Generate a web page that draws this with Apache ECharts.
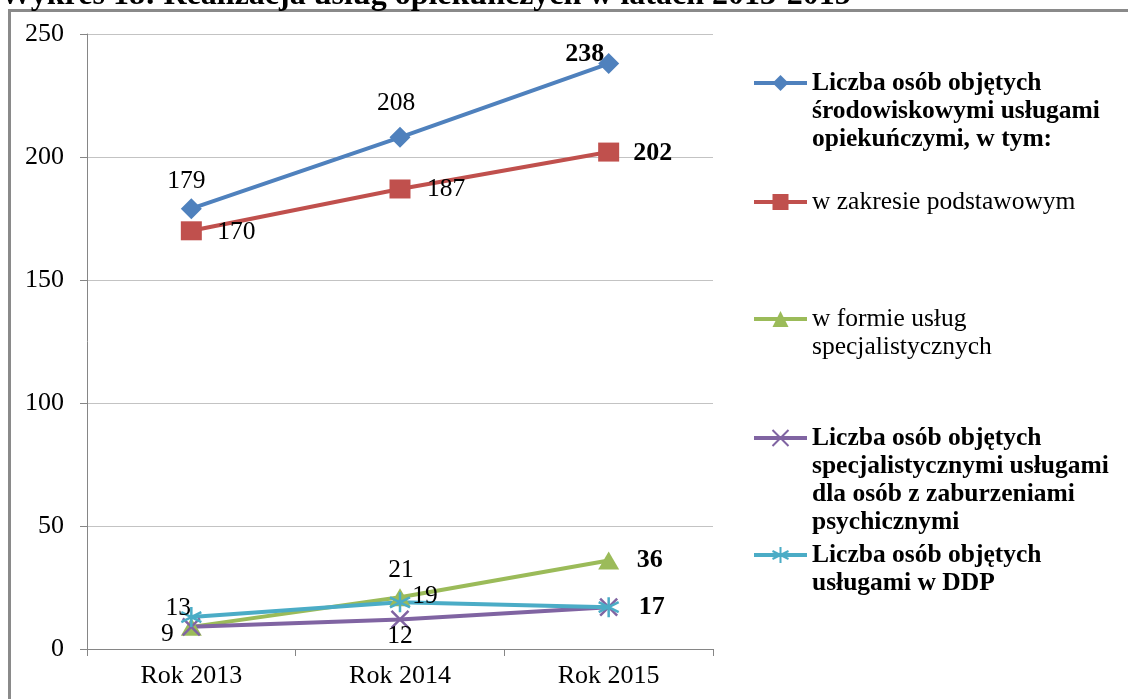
<!DOCTYPE html>
<html><head><meta charset="utf-8">
<script src="https://cdn.jsdelivr.net/npm/echarts@6/dist/echarts.min.js"></script>
<style>html,body{margin:0;padding:0;background:#fff}#c{width:1128px;height:699px}</style>
</head><body><div id="c"></div>
<script>
// ---- data ----
const categories = ['Rok 2013', 'Rok 2014', 'Rok 2015'];
const yTickMin = 0, yTickMax = 250, yTickStep = 50;
const nameSrodowiskowe = 'Liczba osób objętych środowiskowymi usługami opiekuńczymi, w tym:';
const namePodstawowe = 'w zakresie podstawowym';
const nameSpecjalistyczne = 'w formie usług specjalistycznych';
const nameZaburzenia = 'Liczba osób objętych specjalistycznymi usługami dla osób z zaburzeniami psychicznymi';
const nameDDP = 'Liczba osób objętych usługami w DDP';
const valuesSrodowiskowe = [179, 208, 238];
const valuesPodstawowe = [170, 187, 202];
const valuesSpecjalistyczne = [9, 21, 36];
const valuesZaburzenia = [9, 12, 17];
const valuesDDP = [13, 19, 17];
const titleText = 'Wykres 18: Realizacja usług opiekuńczych w latach 2013-2015';

// ---- presentation ----
const FONT = '"Liberation Serif", "Times New Roman", serif';
const legendLines = {};
legendLines[nameSrodowiskowe] = ['Liczba osób objętych', 'środowiskowymi usługami', 'opiekuńczymi, w tym:'];
legendLines[namePodstawowe] = ['w zakresie podstawowym'];
legendLines[nameSpecjalistyczne] = ['w formie usług', 'specjalistycznych'];
legendLines[nameZaburzenia] = ['Liczba osób objętych', 'specjalistycznymi usługami', 'dla osób z zaburzeniami', 'psychicznymi'];
legendLines[nameDDP] = ['Liczba osób objętych', 'usługami w DDP'];

const seriesDefs = [
  { name: nameSrodowiskowe, values: valuesSrodowiskowe, color: '#4F81BD', symbol: 'diamond', size: 21, border: 0,
    labels: [{o:[-5,-27]}, {o:[-4,-34]}, {o:[-24,-9], b:true}], legendTop: 83, bold: true },
  { name: namePodstawowe, values: valuesPodstawowe, color: '#C0504D', symbol: 'rect', size: [21,19], border: 0,
    labels: [{o:[45,1]}, {o:[46,0]}, {o:[44,1], b:true}], legendTop: 202, bold: false },
  { name: nameSpecjalistyczne, values: valuesSpecjalistyczne, color: '#9BBB59', symbol: 'triangle', size: [21,18], border: 0,
    labels: [{o:[-24,7]}, {o:[1,-27]}, {o:[41,0], b:true}], legendTop: 319, bold: false },
  { name: nameZaburzenia, values: valuesZaburzenia, color: '#8064A2', symbol: 'path://M0,0L10,10M10,0L0,10', size: 17, border: 2.5,
    labels: [null, {o:[0,17]}, null], legendTop: 438, bold: true },
  { name: nameDDP, values: valuesDDP, color: '#4BACC6', symbol: 'path://M10,0L10,20M1,5L19,15M19,5L1,15', size: 20, border: 2.5,
    labels: [{o:[-13,-9]}, {o:[25,-6]}, {o:[43,0], b:true}], legendTop: 555, bold: true }
];

const LH = 28;
const series = seriesDefs.map(d => ({
  type: 'line',
  name: d.name,
  symbol: d.symbol,
  symbolSize: d.size,
  lineStyle: { width: 4, color: d.color },
  itemStyle: { color: d.color, borderColor: d.color, borderWidth: d.border },
  emphasis: { disabled: true },
  data: d.values.map((v, i) => {
    const l = d.labels[i];
    return {
      value: v,
      label: l ? {
        show: true, position: 'inside', offset: l.o,
        fontFamily: FONT, fontSize: l.b ? 26 : 25.5, fontWeight: l.b ? 'bold' : 'normal', color: '#000'
      } : { show: false }
    };
  })
}));

// Legend text is vertically centred on its icon; leading blank lines keep
// the first text line level with the icon, as in the original.
const legends = seriesDefs.map(d => {
  const lines = legendLines[d.name];
  const n = lines.length;
  const text = '\n'.repeat(n - 1) + lines.join('\n');
  return {
    data: [d.name],
    left: 752, top: d.legendTop - (2 * n - 1) * LH / 2,
    orient: 'vertical', padding: 0,
    itemWidth: 53, itemHeight: 20,
    selectedMode: false,
    formatter: () => text,
    lineStyle: { width: 4 },
    textStyle: {
      fontFamily: FONT, fontSize: 25.5, fontWeight: d.bold ? 'bold' : 'normal', color: '#000',
      lineHeight: LH
    }
  };
});

const axisGray = '#868686';
const option = {
  animation: false,
  backgroundColor: '#fff',
  graphic: [
    { type: 'rect', shape: { x: 9.5, y: 10.5, width: 1140, height: 720 }, style: { fill: 'none', stroke: '#8a8a8a', lineWidth: 3 }, silent: true },
    { type: 'text', x: 0, y: 12, style: { text: titleText, font: 'bold 32px ' + FONT, fill: '#000', verticalAlign: 'bottom' }, silent: true }
  ],
  grid: { left: 87, right: 415, top: 34, bottom: 50, containLabel: false },
  legend: legends,
  xAxis: {
    type: 'category', data: categories, boundaryGap: true,
    axisLine: { show: true, lineStyle: { color: axisGray, width: 1 } },
    axisTick: { show: true, length: 7, alignWithLabel: false, lineStyle: { color: axisGray } },
    axisLabel: { fontFamily: FONT, fontSize: 26, color: '#000', margin: 14 },
    splitLine: { show: false }
  },
  yAxis: {
    type: 'value', min: yTickMin, max: yTickMax, interval: yTickStep,
    axisLine: { show: true, lineStyle: { color: axisGray, width: 1 } },
    axisTick: { show: true, length: 7, lineStyle: { color: axisGray } },
    axisLabel: { fontFamily: FONT, fontSize: 26, color: '#000', margin: 23 },
    splitLine: { show: true, lineStyle: { color: '#c3c3c3', width: 1 } }
  },
  series: series
};
const chart = echarts.init(document.getElementById('c'), null, { renderer: 'canvas' });
chart.setOption(option);
</script></body></html>
